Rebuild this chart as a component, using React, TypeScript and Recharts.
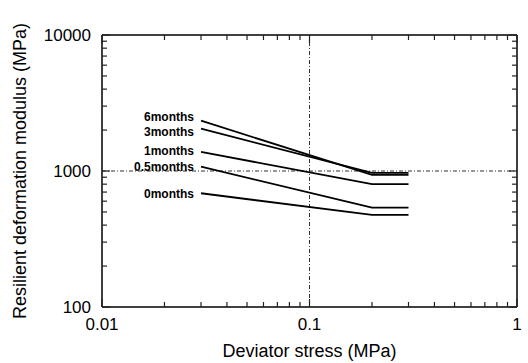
import { LineChart, Line, XAxis, YAxis, ReferenceLine } from "recharts";

// deviator stress (MPa) at which each curve is sampled
const stress = [0.03, 0.2, 0.3];

// resilient deformation modulus (MPa)
const months0 = [686, 475, 475];
const months05 = [1076, 537, 537];
const months1 = [1380, 802, 802];
const months3 = [2047, 970, 970];
const months6 = [2344, 935, 935];

const seriesNames = ["0months", "0.5months", "1months", "3months", "6months"];
const seriesValues = [months0, months05, months1, months3, months6];

const xTicks = [0.01, 0.1, 1];
const yTicks = [100, 1000, 10000];

// small vertical nudges so the curve names sit like the original
const labelShift: Record<string, number> = {
    "0months": 1,
    "0.5months": 0,
    "1months": -1,
    "3months": 3,
    "6months": -4,
};

const font = "'Liberation Sans', Arial, Helvetica, sans-serif";
const MINORS = [2, 3, 4, 5, 6, 7, 8, 9];

const data = stress.map((x, j) => {
    const row: Record<string, number> = { x };
    seriesNames.forEach((name, i) => (row[name] = seriesValues[i][j]));
    return row;
});

// offsets of the minor ticks inside one decade, from the axis length
const minorOffsets = (v: number, majors: number[], span: number) => {
    const i = majors.indexOf(v);
    if (i < 0 || i >= majors.length - 1 || !span) return [];
    const decade = span / (majors.length - 1);
    return MINORS.map((k) => decade * Math.log10(k));
};

// inward tick marks drawn together with the labels
const BottomTick = (p: any) => {
    const v = p.payload.value;
    const y0 = p.y - 11;
    return (
        <g>
            <line x1={p.x} x2={p.x} y1={y0} y2={y0 - 8} stroke="#222" strokeWidth={1.2} />
            {minorOffsets(v, xTicks, p.width).map((d) => (
                <line key={d} x1={p.x + d} x2={p.x + d} y1={y0} y2={y0 - 5} stroke="#222" strokeWidth={1.2} />
            ))}
            <text x={p.x} y={p.y} dy="0.71em" textAnchor="middle" fontSize={17} fontFamily={font} fill="#000">
                {String(v)}
            </text>
        </g>
    );
};

const LeftTick = (p: any) => {
    const v = p.payload.value;
    const x0 = p.x + 11;
    return (
        <g>
            <line x1={x0} x2={x0 + 8} y1={p.y} y2={p.y} stroke="#222" strokeWidth={1.2} />
            {minorOffsets(v, yTicks, p.height).map((d) => (
                <line key={d} x1={x0} x2={x0 + 5} y1={p.y - d} y2={p.y - d} stroke="#222" strokeWidth={1.2} />
            ))}
            <text x={p.x} y={p.y} dy="0.355em" textAnchor="end" fontSize={17} fontFamily={font} fill="#000">
                {String(v)}
            </text>
        </g>
    );
};

const TopTick = (p: any) => (
    <g>
        <line x1={p.x} x2={p.x} y1={p.y} y2={p.y + 8} stroke="#222" strokeWidth={1.2} />
        {minorOffsets(p.payload.value, xTicks, p.width).map((d) => (
            <line key={d} x1={p.x + d} x2={p.x + d} y1={p.y} y2={p.y + 5} stroke="#222" strokeWidth={1.2} />
        ))}
    </g>
);

const RightTick = (p: any) => (
    <g>
        <line x1={p.x} x2={p.x - 8} y1={p.y} y2={p.y} stroke="#222" strokeWidth={1.2} />
        {minorOffsets(p.payload.value, yTicks, p.height).map((d) => (
            <line key={d} x1={p.x} x2={p.x - 5} y1={p.y - d} y2={p.y - d} stroke="#222" strokeWidth={1.2} />
        ))}
    </g>
);

export default function App() {
    return (
        <div style={{ position: "absolute", left: 0, top: 0, background: "#fff" }}>
            <LineChart width={528} height={363} data={data} margin={{ top: 30, right: 6, bottom: 0, left: 4 }}>
                <XAxis
                    dataKey="x"
                    type="number"
                    scale="log"
                    domain={[0.01, 1]}
                    ticks={xTicks}
                    interval={0}
                    allowDataOverflow
                    height={56}
                    tickMargin={11}
                    tickSize={0}
                    stroke="#000"
                    strokeWidth={1.5}
                    tick={BottomTick}
                    label={{
                        value: "Deviator stress (MPa)",
                        position: "insideBottom",
                        offset: 6,
                        style: { fontSize: 18, fontFamily: font, fill: "#000" },
                    }}
                />
                <XAxis
                    xAxisId="top"
                    dataKey="x"
                    orientation="top"
                    type="number"
                    scale="log"
                    domain={[0.01, 1]}
                    ticks={xTicks}
                    interval={0}
                    allowDataOverflow
                    height={5}
                    tickMargin={0}
                    tickSize={0}
                    tick={TopTick}
                    stroke="#000"
                    strokeWidth={1.5}
                />
                <YAxis
                    type="number"
                    scale="log"
                    domain={[100, 10000]}
                    ticks={yTicks}
                    interval={0}
                    allowDataOverflow
                    width={98}
                    tickMargin={11}
                    tickSize={0}
                    stroke="#000"
                    strokeWidth={1.5}
                    tick={LeftTick}
                    label={{
                        value: "Resilient deformation modulus (MPa)",
                        angle: -90,
                        position: "insideLeft",
                        offset: 16,
                        style: { fontSize: 18, fontFamily: font, fill: "#000", textAnchor: "middle" },
                    }}
                />
                <YAxis
                    yAxisId="right"
                    orientation="right"
                    type="number"
                    scale="log"
                    domain={[100, 10000]}
                    ticks={yTicks}
                    interval={0}
                    allowDataOverflow
                    width={5}
                    tickMargin={0}
                    tickSize={0}
                    tick={RightTick}
                    stroke="#000"
                    strokeWidth={1.5}
                />
                <ReferenceLine x={0.1} stroke="#333" strokeDasharray="4 2 1 2" />
                <ReferenceLine y={1000} stroke="#333" strokeDasharray="4 2 1 2" />
                {seriesNames.map((name) => (
                    <Line
                        key={name}
                        dataKey={name}
                        type="linear"
                        stroke="#000"
                        strokeWidth={1.8}
                        dot={false}
                        isAnimationActive={false}
                        label={(p: any) =>
                            p.index === 0 ? (
                                <text
                                    key={name}
                                    x={p.x - 7}
                                    y={p.y + labelShift[name]}
                                    textAnchor="end"
                                    dominantBaseline="central"
                                    fontSize={12}
                                    fontWeight="bold"
                                    fontFamily={font}
                                    fill="#000"
                                >
                                    {name}
                                </text>
                            ) : (
                                <g key={name + p.index} />
                            )
                        }
                    />
                ))}
            </LineChart>
        </div>
    );
}
